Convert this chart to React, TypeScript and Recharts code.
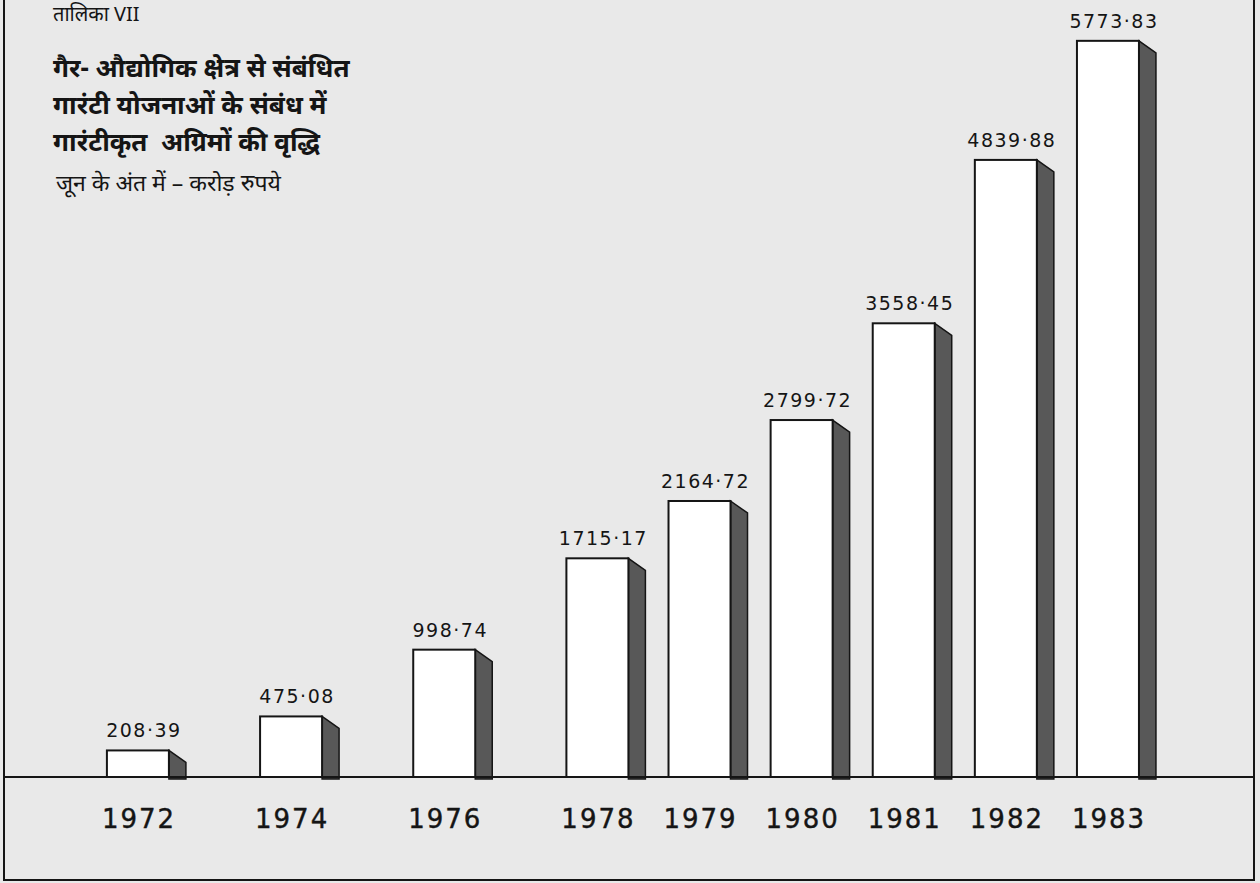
import { BarChart, Bar, XAxis, YAxis, LabelList } from 'recharts'

// years on the bottom axis
const years = [1972, 1974, 1976, 1978, 1979, 1980, 1981, 1982, 1983]
// guaranteed advances, crore rupees (end of June)
const advances = [208.39, 475.08, 998.74, 1715.17, 2164.72, 2799.72, 3558.45, 4839.88, 5773.83]

const tableNo = 'तालिका VII'
const titleLines = ['गैर- औद्योगिक क्षेत्र से संबंधित', 'गारंटी योजनाओं के संबंध में', 'गारंटीकृत  अग्रिमों की वृद्धि']
const subtitle = 'जून के अंत में – करोड़ रुपये'

// the original axis is broken: two-year steps up to 1978 are drawn 1.5x a one-year step
const axisPos = (y: number) => (y <= 1978 ? (y - 1972) * 0.75 : 4.5 + (y - 1978))

const data = years.map((y, i) => ({ year: y, pos: axisPos(y), value: advances[i] }))

const INK = '#151515'
const devFont = '"Noto Sans", "Lohit Devanagari", FreeSans, "DejaVu Sans", sans-serif'
const numFont = '"DejaVu Sans", Verdana, sans-serif'

const fmt = (v: number) => v.toFixed(2).replace('.', '·')

function Bar3D(props: any) {
  const { x, y, width, height } = props
  if (height == null || width == null) return null
  const d = 17
  const base = y + height
  return (
    <g>
      <polygon
        points={`${x + width},${y} ${x + width + d},${y + 12} ${x + width + d},${base + 2} ${x + width},${base + 2}`}
        fill="#585858" stroke={INK} strokeWidth={1.5}
      />
      <rect x={x} y={y} width={width} height={height} fill="#fff" stroke={INK} strokeWidth={2} />
    </g>
  )
}

function ValueLabel(props: any) {
  const { x, y, width, value } = props
  return (
    <text x={x + width / 2 + 6} y={y - 13} textAnchor="middle" fontFamily={numFont} fontSize={19}
      letterSpacing={1.5} fill={INK}>
      {fmt(Number(value))}
    </text>
  )
}

function YearTick(props: any) {
  const { x, y, payload } = props
  const d = data.find(r => Math.abs(r.pos - payload.value) < 1e-6)
  return (
    <text x={x + 1} y={y + 49} textAnchor="middle" fontFamily={numFont} fontSize={26}
      letterSpacing={2} fill={INK} stroke={INK} strokeWidth={0.4}>
      {d ? d.year : ''}
    </text>
  )
}

export default function App() {
  return (
    <div style={{ position: 'absolute', left: 0, top: 0, width: 1260, height: 883, background: '#e9e9e9', overflow: 'hidden' }}>
      <div style={{ position: 'absolute', left: 3, top: -4, width: 1248, height: 881, border: `2.5px solid ${INK}` }} />
      <BarChart width={1260} height={883} data={data} margin={{ top: 12, right: 7, bottom: 46, left: 4 }}>
        <XAxis type="number" dataKey="pos" domain={[-1.312, 10.92]} ticks={data.map(d => d.pos)}
          height={60} tickSize={0} tickLine={false} axisLine={{ stroke: INK, strokeWidth: 2 }}
          tick={<YearTick />} interval={0} />
        <YAxis hide domain={[0, 6000]} />
        <Bar dataKey="value" barSize={62} shape={<Bar3D />} isAnimationActive={false}>
          <LabelList dataKey="value" content={<ValueLabel />} />
        </Bar>
      </BarChart>
      <div style={{ position: 'absolute', left: 53, top: 0, fontFamily: devFont, fontSize: 20, color: INK, lineHeight: '28px' }}>{tableNo}</div>
      <div style={{ position: 'absolute', left: 53, top: 49, fontFamily: devFont, fontSize: 26, fontWeight: 700, color: INK, lineHeight: '37px', whiteSpace: 'pre' }}>
        {titleLines.map(l => <div key={l}>{l}</div>)}
      </div>
      <div style={{ position: 'absolute', left: 56, top: 166, fontFamily: devFont, fontSize: 23, color: INK, whiteSpace: 'pre' }}>{subtitle}</div>
    </div>
  )
}
